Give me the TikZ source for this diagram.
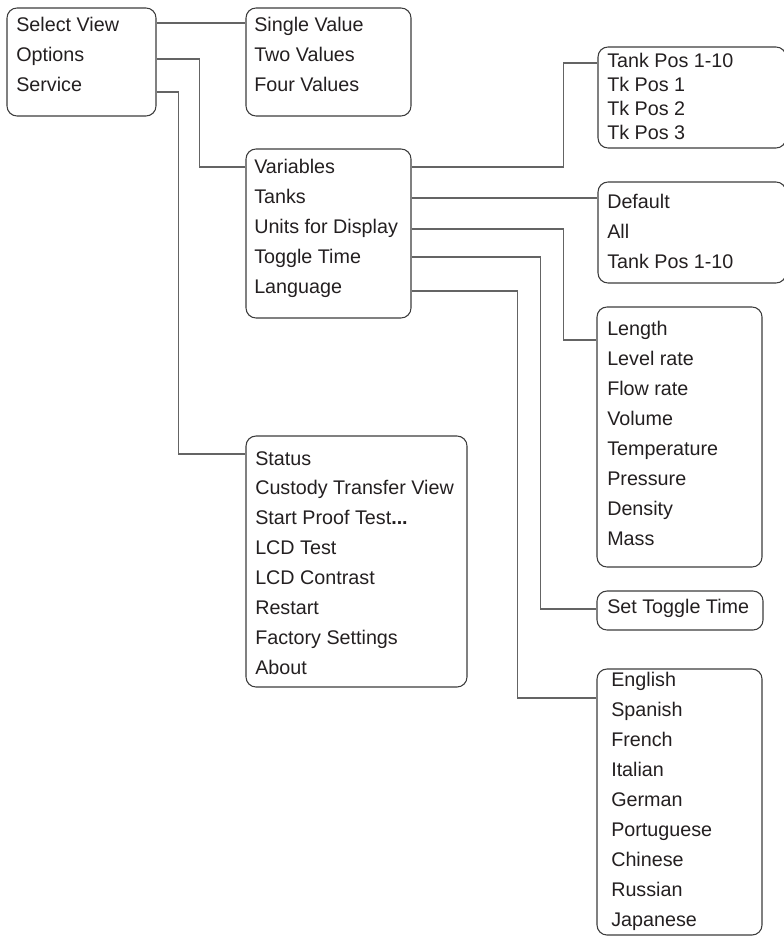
\documentclass[tikz,border=0pt]{standalone}
\usepackage{fontspec}
\setmainfont{Liberation Sans}
\usetikzlibrary{fit}
\definecolor{ink}{RGB}{35,31,32}
\definecolor{frame}{RGB}{60,60,60}
\definecolor{wire}{RGB}{100,100,100}
\tikzset{
  menu/.style={draw=frame,line width=0.8pt,rounded corners=7.5pt,inner sep=0pt},
  entry/.style={anchor=base west,inner sep=0pt,text=ink,font=\fontsize{14.8}{17}\selectfont},
  link/.style={draw=wire,line width=1pt},
}

\begin{document}
\begin{tikzpicture}[x=0.75pt,y=-0.75pt]
  \useasboundingbox (0,0) rectangle (784,938);
  % menu frames
  \node[menu,fit={(7,8) (156,116)}] (mainmenu) {};
  \node[menu,fit={(246,8) (411,116)}] (viewmenu) {};
  \node[menu,fit={(246,149) (411,318)}] (optmenu) {};
  \node[menu,fit={(246,436) (467,687)}] (servmenu) {};
  \node[menu,fit={(598,47) (786,148)}] (varmenu) {};
  \node[menu,fit={(598,182) (786,283)}] (tankmenu) {};
  \node[menu,fit={(597,307) (762,567)}] (unitmenu) {};
  \node[menu,fit={(597,591) (763,630)}] (togglemenu) {};
  \node[menu,fit={(597,669) (762,935)}] (langmenu) {};
  % entries
  \foreach \t [count=\i] in {Select View,Options,Service}
    \node[entry] (main-\i) at (16,{32+30*(\i-1)}) {\t};
  \foreach \t [count=\i] in {Single Value,Two Values,Four Values}
    \node[entry] (view-\i) at (254,{32+30*(\i-1)}) {\t};
  \foreach \t [count=\i] in {Variables,Tanks,Units for Display,Toggle Time,Language}
    \node[entry] (opt-\i) at (254,{174+29.8*(\i-1)}) {\t};
  \foreach \t [count=\i] in {Status,Custody Transfer View,Start Proof Test\textbf{...},LCD Test,LCD Contrast,Restart,Factory Settings,About}
    \node[entry] (serv-\i) at (255,{465+29.9*(\i-1)}) {\t};
  \foreach \t [count=\i] in {Tank Pos 1-10,Tk Pos 1,Tk Pos 2,Tk Pos 3}
    \node[entry] (var-\i) at (607,{68+24*(\i-1)}) {\t};
  \foreach \t [count=\i] in {Default,All,Tank Pos 1-10}
    \node[entry] (tank-\i) at (607,{208+30*(\i-1)}) {\t};
  \foreach \t [count=\i] in {Length,Level rate,Flow rate,Volume,Temperature,Pressure,Density,Mass}
    \node[entry] (unit-\i) at (607,{335+30*(\i-1)}) {\t};
  \node[entry] (toggle-1) at (607,613) {Set Toggle Time};
  \foreach \t [count=\i] in {English,Spanish,French,Italian,German,Portuguese,Chinese,Russian,Japanese}
    \node[entry] (lang-\i) at (611,{686+30.1*(\i-1)}) {\t};
  % connectors
  \draw[link] (mainmenu.east |- 0,23) -- (viewmenu.west |- 0,23);
  \draw[link] (mainmenu.east |- 0,59) -- ++(43,0) |- (optmenu.west |- 0,167);
  \draw[link] (mainmenu.east |- 0,92) -- ++(21.7,0) |- (servmenu.west |- 0,454);
  \draw[link] (optmenu.east |- 0,167) -- ++(152,0) |- (varmenu.west |- 0,63);
  \draw[link] (optmenu.east |- 0,198) -- (tankmenu.west |- 0,198);
  \draw[link] (optmenu.east |- 0,229) -- ++(152,0) |- (unitmenu.west |- 0,340);
  \draw[link] (optmenu.east |- 0,257) -- ++(129,0) |- (togglemenu.west |- 0,609);
  \draw[link] (optmenu.east |- 0,291) -- ++(106,0) |- (langmenu.west |- 0,698);
\end{tikzpicture}
\end{document}
